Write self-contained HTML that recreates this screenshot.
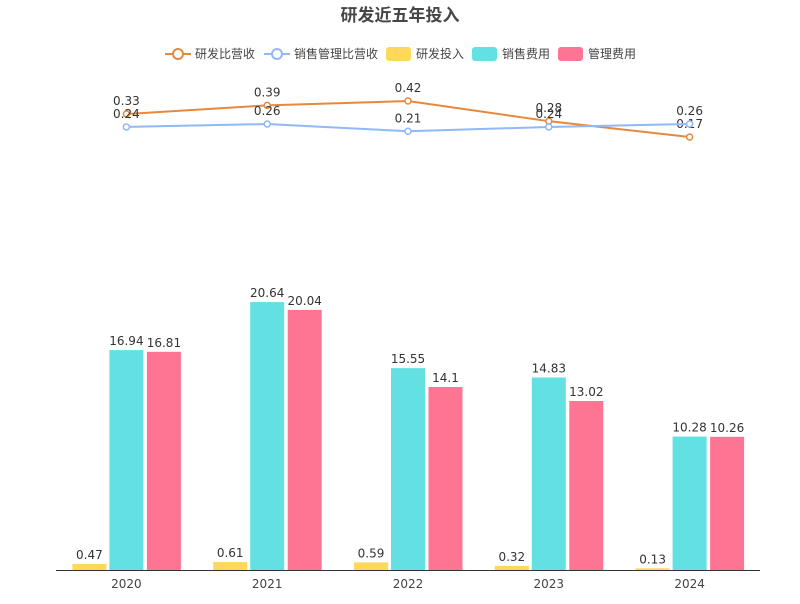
<!DOCTYPE html>
<html><head><meta charset="utf-8"><style>
body{margin:0;background:#fff;font-family:"DejaVu Sans","Noto Sans CJK SC",sans-serif;}
svg text{font-family:"DejaVu Sans","Noto Sans CJK SC",sans-serif;}
</style></head><body>
<svg id="chart" width="800" height="600" xmlns="http://www.w3.org/2000/svg">
<text x="400" y="21" text-anchor="middle" font-size="17" font-weight="bold" fill="#464646">研发近五年投入</text>
<g font-size="12" fill="#444">
 <g>
  <line x1="165" y1="54" x2="191" y2="54" stroke="#e8883a" stroke-width="2"/><circle cx="178" cy="54" r="5" fill="#fff" stroke="#e8883a" stroke-width="2"/>
  <text x="195" y="58">研发比营收</text></g>
 <g>
  <line x1="264" y1="54" x2="290" y2="54" stroke="#91b8f8" stroke-width="2"/><circle cx="277" cy="54" r="5" fill="#fff" stroke="#91b8f8" stroke-width="2"/>
  <text x="294" y="58">销售管理比营收</text></g>
 <g>
  <rect x="386" y="47" width="25" height="14" rx="3" fill="#fdd85a"/><text x="416" y="58">研发投入</text></g>
 <g>
  <rect x="472" y="47" width="25" height="14" rx="3" fill="#62e0e2"/><text x="502" y="58">销售费用</text></g>
 <g>
  <rect x="558" y="47" width="25" height="14" rx="3" fill="#fe7493"/><text x="588" y="58">管理费用</text></g>
</g>
<g id="bars"></g><g id="lines"></g>
<line x1="56" y1="570.5" x2="760" y2="570.5" stroke="#333"/>
<g id="xlabels"></g>
</svg>
<script>
const categories=["2020","2021","2022","2023","2024"];
const rdValues=[0.47,0.61,0.59,0.32,0.13];
const salesValues=[16.94,20.64,15.55,14.83,10.28];
const adminValues=[16.81,20.04,14.1,13.02,10.26];
const rdRatio=[0.33,0.39,0.42,0.28,0.17];
const smRatio=[0.24,0.26,0.21,0.24,0.26];
const NS="http://www.w3.org/2000/svg";
const x0=56,bandW=140.8;
const xc=i=>x0+bandW*(i+0.5);
const yBar=v=>570-v*12.98;
const yLine=v=>161.5-v*144;
function mk(tag,attrs,parent,text){const e=document.createElementNS(NS,tag);for(const k in attrs)e.setAttribute(k,attrs[k]);if(text!==undefined)e.textContent=text;document.getElementById(parent).appendChild(e);return e;}
const series=[[rdValues,"#fdd85a",-37,"rd"],[salesValues,"#62e0e2",0,"sales"],[adminValues,"#fe7493",37.5,"admin"]];
categories.forEach((c,i)=>{
 series.forEach(([vals,col,off,nm])=>{
  const cx=xc(i)+off,y=yBar(vals[i]);
  const r=mk("rect",{x:cx-17,y:y,width:34,height:570-y,fill:col},"bars");
  
  
  const t=mk("text",{x:cx,y:y-5,"text-anchor":"middle","font-size":12,fill:"#333"},"bars",String(vals[i]));
  
  
 });
 const l=mk("text",{x:xc(i),y:588,"text-anchor":"middle","font-size":12,fill:"#444"},"xlabels",c);
 
 
});
[[rdRatio,"#e8883a","rd-ratio"],[smRatio,"#91b8f8","sm-ratio"]].forEach(([vals,col,nm])=>{
 const p=mk("polyline",{points:vals.map((v,i)=>xc(i)+","+yLine(v)).join(" "),fill:"none",stroke:col,"stroke-width":2},"lines");
 
 
 vals.forEach((v,i)=>{
  const c=mk("circle",{cx:xc(i),cy:yLine(v),r:3,fill:"#fff",stroke:col,"stroke-width":1.5},"lines");
  
  
  const t=mk("text",{x:xc(i),y:yLine(v)-9,"text-anchor":"middle","font-size":12,fill:"#333"},"lines",String(v));
  
  
 });
});
</script>
</body></html>
